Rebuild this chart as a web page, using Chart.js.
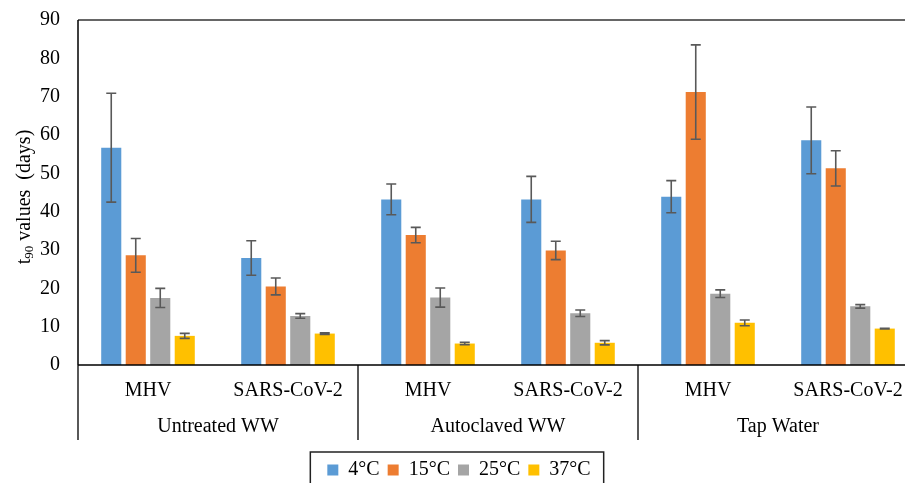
<!DOCTYPE html>
<html>
<head>
<meta charset="utf-8">
<title>t90 values</title>
<script src="https://cdn.jsdelivr.net/npm/chart.js@4/dist/chart.umd.min.js"></script>
<style>
  html, body { margin: 0; padding: 0; background: #fff; overflow: hidden; }
  #wrap { position: absolute; left: 0; top: 0; width: 920px; height: 490px; }
</style>
</head>
<body>
<div id="wrap"><canvas id="t90Chart" width="920" height="490"></canvas></div>
<script>
// ==========================================
// 1. DATA
// ==========================================
const categories = ['MHV', 'SARS-CoV-2', 'MHV', 'SARS-CoV-2', 'MHV', 'SARS-CoV-2'];
const groups = ['Untreated WW', 'Autoclaved WW', 'Tap Water'];
const seriesLabels = ['4°C', '15°C', '25°C', '37°C'];

const t4 = [56.7, 27.9, 43.2, 43.2, 43.9, 58.6];
const err4 = [14.2, 4.5, 4.0, 6.0, 4.2, 8.7];
const t15 = [28.6, 20.5, 33.9, 29.9, 71.2, 51.3];
const err15 = [4.4, 2.2, 2.0, 2.4, 12.3, 4.6];
const t25 = [17.5, 12.8, 17.6, 13.5, 18.6, 15.3];
const err25 = [2.5, 0.6, 2.5, 0.85, 1.0, 0.45];
const t37 = [7.6, 8.2, 5.6, 5.8, 11.0, 9.5];
const err37 = [0.65, 0.2, 0.3, 0.55, 0.75, 0.1];

const yMin = 0;
const yMax = 90;
const yStep = 10;

const colors = ['#5B9BD5', '#ED7D31', '#A5A5A5', '#FFC000'];
const FONT = "'Liberation Serif', 'Times New Roman', serif";

// ==========================================
// 2. PLUGINS (error bars, axis labels, frame)
// ==========================================
const errorSets = [err4, err15, err25, err37];

const errorBars = {
    id: 'errorBars',
    afterDatasetsDraw(chart) {
        const ctx = chart.ctx;
        const y = chart.scales.y;
        ctx.save();
        ctx.strokeStyle = '#595959';
        ctx.lineWidth = 1.6;
        chart.data.datasets.forEach((ds, i) => {
            const meta = chart.getDatasetMeta(i);
            meta.data.forEach((bar, j) => {
                const v = ds.data[j];
                const e = errorSets[i][j];
                const top = y.getPixelForValue(v + e);
                const bot = y.getPixelForValue(v - e);
                const half = 5;
                ctx.beginPath();
                ctx.moveTo(bar.x, top); ctx.lineTo(bar.x, bot);
                ctx.moveTo(bar.x - half, top); ctx.lineTo(bar.x + half, top);
                ctx.moveTo(bar.x - half, bot); ctx.lineTo(bar.x + half, bot);
                ctx.stroke();
            });
        });
        ctx.restore();
    }
};

const frameAndLabels = {
    id: 'frameAndLabels',
    afterDraw(chart) {
        const ctx = chart.ctx;
        const area = chart.chartArea;
        const x = chart.scales.x;
        ctx.save();

        // plot frame: top line, left axis, bottom axis
        ctx.strokeStyle = '#333';
        ctx.lineWidth = 1.5;
        ctx.beginPath();
        ctx.moveTo(area.left, area.top); ctx.lineTo(area.right, area.top);
        ctx.stroke();
        ctx.strokeStyle = '#000';
        ctx.beginPath();
        ctx.moveTo(area.left, area.top); ctx.lineTo(area.left, area.bottom);
        ctx.moveTo(area.left, area.bottom); ctx.lineTo(area.right, area.bottom);
        ctx.stroke();

        // group separators below the axis
        ctx.lineWidth = 1.3;
        const half = (x.getPixelForValue(1) - x.getPixelForValue(0)) / 2;
        ctx.beginPath();
        for (let g = 0; g <= groups.length; g++) {
            const px = g === 0 ? area.left : x.getPixelForValue(g * 2 - 1) + half;
            ctx.moveTo(px, area.bottom);
            ctx.lineTo(px, area.bottom + 75);
        }
        ctx.stroke();

        // category and group labels
        ctx.fillStyle = '#000';
        ctx.font = '20px ' + FONT;
        ctx.textAlign = 'center';
        ctx.textBaseline = 'middle';
        categories.forEach((c, i) => {
            ctx.fillText(c, x.getPixelForValue(i), area.bottom + 26);
        });
        groups.forEach((g, i) => {
            const cx = (x.getPixelForValue(i * 2) + x.getPixelForValue(i * 2 + 1)) / 2;
            ctx.fillText(g, cx, area.bottom + 62);
        });

        // y title with subscript
        const parts = [['t', 20, 0], ['90', 13, 5], [' values  (days)', 20, 0]];
        let total = 0;
        parts.forEach(p => { ctx.font = p[1] + 'px ' + FONT; total += ctx.measureText(p[0]).width; });
        ctx.translate(25, 197);
        ctx.rotate(-Math.PI / 2);
        ctx.textAlign = 'left';
        let cur = -total / 2;
        parts.forEach(p => {
            ctx.font = p[1] + 'px ' + FONT;
            ctx.fillText(p[0], cur, p[2]);
            cur += ctx.measureText(p[0]).width;
        });
        ctx.restore();

        // border round the legend
        const boxes = chart.legend.legendHitBoxes;
        if (boxes && boxes.length) {
            const first = boxes[0];
            const last = boxes[boxes.length - 1];
            const cy = first.top + first.height / 2;
            ctx.save();
            ctx.strokeStyle = '#222';
            ctx.lineWidth = 1.5;
            ctx.strokeRect(first.left - 17, cy - 18, last.left + last.width - first.left + 30, 38);
            ctx.restore();
        }
    }
};

// ==========================================
// 3. CHART
// ==========================================
const seriesValues = [t4, t15, t25, t37];

new Chart(document.getElementById('t90Chart'), {
    type: 'bar',
    data: {
        labels: categories,
        datasets: seriesValues.map((vals, i) => ({
            label: seriesLabels[i],
            data: vals,
            backgroundColor: colors[i],
            categoryPercentage: 0.7,
            barPercentage: 0.82
        }))
    },
    options: {
        responsive: false,
        animation: false,
        layout: { padding: { top: 20, right: 2, left: 0, bottom: 0 } },
        scales: {
            x: {
                grid: { display: false },
                border: { display: false },
                ticks: { display: false },
                afterFit: s => { s.height = 87; }
            },
            y: {
                min: yMin,
                max: yMax,
                grid: { display: false, drawTicks: false },
                border: { display: false },
                ticks: {
                    stepSize: yStep,
                    padding: 18,
                    color: '#000',
                    font: { family: FONT, size: 20 }
                },
                afterFit: s => {
                    s.width = 78;
                    s.paddingTop = 0;
                    s.paddingBottom = 0;
                }
            }
        },
        plugins: {
            legend: {
                position: 'bottom',
                labels: {
                    boxWidth: 11,
                    boxHeight: 11,
                    padding: 8,
                    color: '#000',
                    font: { family: FONT, size: 20 }
                }
            },
            tooltip: { enabled: false }
        }
    },
    plugins: [errorBars, frameAndLabels]
});
</script>
</body>
</html>
